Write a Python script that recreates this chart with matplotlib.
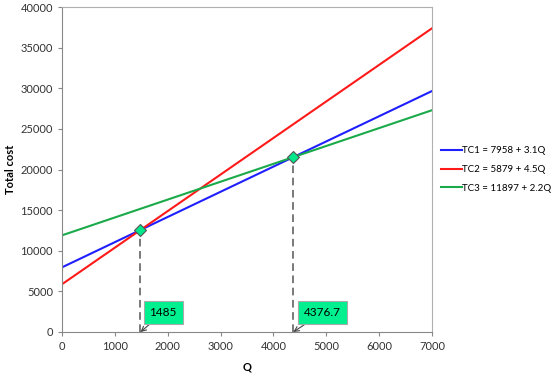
import matplotlib
matplotlib.use("Agg")
import matplotlib.pyplot as plt

# line end points (Q = 0 and Q = 7000)
Q = [0, 7000]
TC1 = [7958, 29658]
TC2 = [5879, 37379]
TC3 = [11897, 27297]
LABELS = ["TC1 = 7958 + 3.1Q", "TC2 = 5879 + 4.5Q", "TC3 = 11897 + 2.2Q"]
COLORS = ["#2020ff", "#ff1a1a", "#1aaa4a"]

# break-even points
BE_Q = [1485, 4376.7]
BE_TC = [12562, 21525]
BE_TXT = ["1485", "4376.7"]

plt.rcParams['font.family'] = ['Lato', 'DejaVu Sans']
TICKSIZE = 8

fig = plt.figure(figsize=(5.6, 3.76), dpi=100)
ax = fig.add_axes([62/560, 44/376, 370/560, 325/376])

for y, lbl, c in zip([TC1, TC2, TC3], LABELS, COLORS):
    ax.plot(Q, y, color=c, lw=1.5, label=lbl)

for q, tc, txt, dx in zip(BE_Q, BE_TC, BE_TXT, [170, 200]):
    ax.plot([q, q], [0, tc], ls=(0, (5, 3)), color="#555555", lw=1.1, zorder=1)
    ax.plot(q, tc, marker="D", ms=6, mfc="#00e68a", mec="#555555", mew=0.8, zorder=5)
    ax.annotate(txt, xy=(q, 0), xytext=(q + dx, 1700), fontsize=8.5,
                ha="left", va="bottom",
                bbox=dict(boxstyle="square,pad=0.5", fc="#00f090", ec="#aaaaaa", lw=0.8),
                arrowprops=dict(arrowstyle="->", color="#444444", lw=0.8,
                                shrinkA=0, shrinkB=0))

ax.set_xlim(0, 7000)
ax.set_ylim(0, 40000)
ax.set_xticks(range(0, 7001, 1000))
ax.set_yticks(range(0, 40001, 5000))
ax.tick_params(labelsize=TICKSIZE, length=3, color="#888888", colors="#333333")
ax.set_xlabel("Q", fontsize=8, fontweight="bold", labelpad=7)
ax.set_ylabel("Total cost", fontsize=8, fontweight="bold", labelpad=3)
for s in ax.spines.values():
    s.set_color("#b0b0b0")
ax.spines["left"].set_color("#888888")
ax.spines["bottom"].set_color("#888888")

ax.legend(loc="center left", bbox_to_anchor=(1.0, 0.5), frameon=False,
          fontsize=7, handlelength=2.2, handletextpad=0.0, labelspacing=1.0)

plt.savefig("out.png", dpi=100)
